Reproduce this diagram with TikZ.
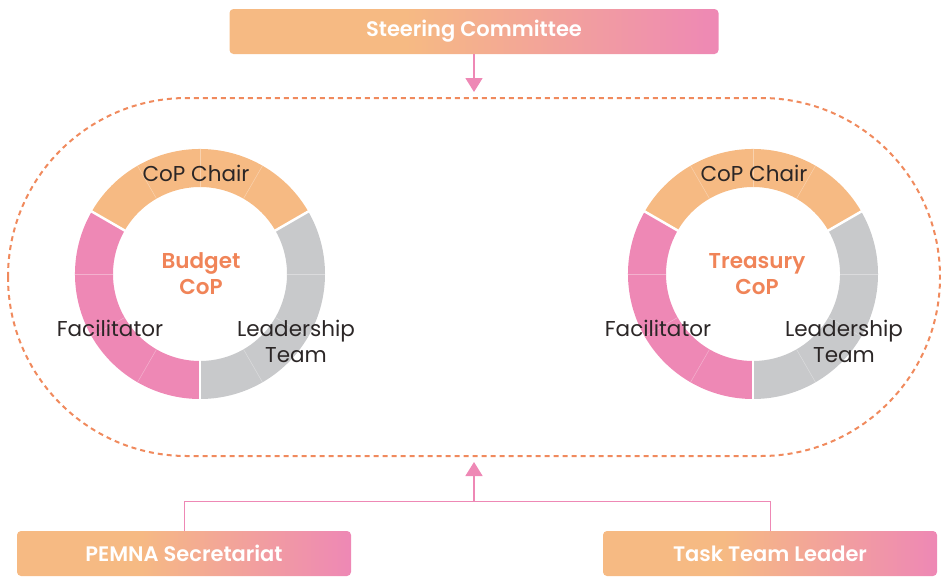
\documentclass[tikz,border=0pt]{standalone}
\usepackage{fontspec}
\setmainfont{Poppins}
\newfontfamily\semib{Poppins}[UprightFont=* SemiBold]
\usetikzlibrary{arrows.meta,calc}
\definecolor{orng}{HTML}{F6BA83}
\definecolor{pnk}{HTML}{EE88B5}
\definecolor{gry}{HTML}{C8C9CB}
\definecolor{txtdark}{HTML}{2B2626}
\definecolor{ttlcol}{HTML}{F08458}
\definecolor{dashcol}{HTML}{F08A5D}
\pgfdeclarehorizontalshading{boxgrad}{100bp}{color(0bp)=(orng); color(25bp)=(orng); color(43bp)=(orng); color(75bp)=(pnk); color(100bp)=(pnk)}
\tikzset{
  gradbox/.style={shading=boxgrad, shade, rounded corners=4pt, minimum height=45pt, inner sep=0pt,
    text=white, font=\semib\fontsize{21}{24}\selectfont},
  lbl/.style={text=txtdark, font=\fontsize{21.5}{26}\selectfont, align=center, inner sep=0pt},
  cop/.style={text=ttlcol, font=\semib\fontsize{21.5}{26}\selectfont, align=center, inner sep=0pt},
  conn/.style={draw=pnk, line width=1.6pt},
  thinconn/.style={draw=pnk, line width=1pt},
  tip/.style={-{Triangle[width=17pt,length=14pt]}}
}
\newcommand\mydonut[2]{%
  \begin{scope}[shift={(#1,#2)}]
    \fill[orng] (30:125pt) arc[start angle=30,end angle=150,radius=125pt] -- (150:87pt) arc[start angle=150,end angle=30,radius=87pt] -- cycle;
    \fill[pnk] (150:125pt) arc[start angle=150,end angle=270,radius=125pt] -- (270:87pt) arc[start angle=270,end angle=150,radius=87pt] -- cycle;
    \fill[gry] (270:125pt) arc[start angle=270,end angle=390,radius=125pt] -- (390:87pt) arc[start angle=390,end angle=270,radius=87pt] -- cycle;
    \foreach \a in {0,60,90,120,180,210,240,300,330}
      \draw[white, opacity=0.35, line width=0.5pt] (\a:87pt) -- (\a:125pt);
    \foreach \a in {30,150,270}
      \draw[white, line width=2.5pt] (\a:86pt) -- (\a:126pt);
  \end{scope}}
\begin{document}
\begin{tikzpicture}[x=1pt,y=1pt]
\useasboundingbox (0,0) rectangle (941,-576);
% dashed stadium
\draw[dashcol, line width=2pt, dash pattern=on 5pt off 4pt, rounded corners=178.9pt] (8,-98) rectangle (940,-456);
\coordinate (tipTop) at (474,-92);
\coordinate (tipBot) at (474,-462);
\coordinate (junc) at (474,-501);
% donuts
\mydonut{200}{-274}
\mydonut{753}{-274}
% labels left
\node[lbl] (chairL) at (196,-173) {CoP Chair};
\node[cop] (budget) at (201,-274) {Budget\\CoP};
\node[lbl] (facL) at (110,-328) {Facilitator};
\node[lbl] (leadL) at (296,-341) {Leadership\\Team};
% labels right
\node[lbl] (chairR) at (754,-173) {CoP Chair};
\node[cop] (treasury) at (757,-274) {Treasury\\CoP};
\node[lbl] (facR) at (658,-328) {Facilitator};
\node[lbl] (leadR) at (844,-341) {Leadership\\Team};
% boxes
\node[gradbox, minimum width=489pt] (steer) at (474,-31.5) {Steering Committee};
\node[gradbox, minimum width=334pt] (pemna) at (184,-553.5) {PEMNA Secretariat};
\node[gradbox, minimum width=334pt] (ttl) at (770,-553.5) {Task Team Leader};
% connectors
\draw[conn, tip] (steer.south) -- (tipTop);
\draw[thinconn] (pemna.north) |- (junc);
\draw[thinconn] (ttl.north) |- (junc);
\draw[conn, tip] (junc) -- (tipBot);
\end{tikzpicture}
\end{document}
